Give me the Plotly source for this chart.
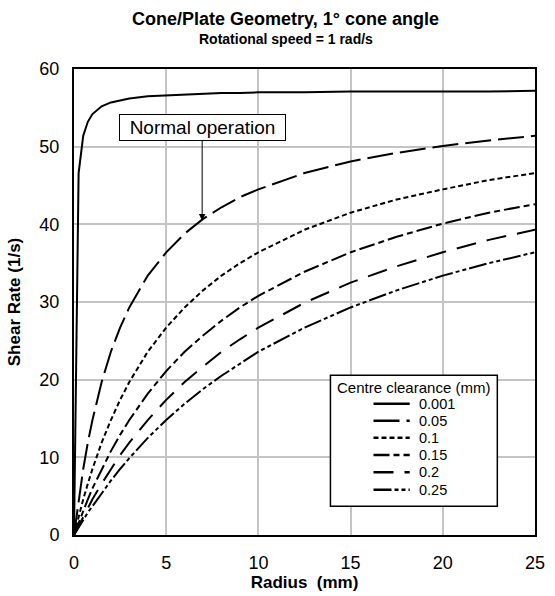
import plotly.graph_objects as go

radius = [0, 0.25, 0.5, 0.75, 1, 1.5, 2, 2.5, 3, 4, 5, 6, 7, 8, 9, 10, 12.5, 15, 17.5, 20, 22.5, 25]

clearances = ["0.001", "0.05", "0.1", "0.15", "0.2", "0.25"]

rate_0001 = [0, 46.6, 51.4, 53.2, 54.2, 55.2, 55.7, 56.0, 56.2, 56.5, 56.6, 56.7, 56.8, 56.9, 56.9, 57.0, 57.0, 57.1, 57.1, 57.1, 57.1, 57.2]
rate_005 = [0, 4.6, 8.5, 11.9, 14.8, 19.7, 23.6, 26.7, 29.3, 33.4, 36.4, 38.8, 40.7, 42.2, 43.5, 44.5, 46.6, 48.1, 49.2, 50.1, 50.8, 51.4]
rate_01 = [0, 2.4, 4.6, 6.6, 8.5, 11.9, 14.8, 17.4, 19.7, 23.6, 26.7, 29.3, 31.5, 33.4, 35.0, 36.4, 39.3, 41.5, 43.2, 44.5, 45.7, 46.6]
rate_015 = [0, 1.6, 3.2, 4.6, 6.0, 8.5, 10.8, 12.9, 14.8, 18.2, 21.1, 23.6, 25.7, 27.6, 29.3, 30.8, 33.9, 36.4, 38.4, 40.1, 41.5, 42.6]
rate_02 = [0, 1.2, 2.4, 3.5, 4.6, 6.6, 8.5, 10.3, 11.9, 14.8, 17.4, 19.7, 21.7, 23.6, 25.2, 26.7, 29.9, 32.5, 34.6, 36.4, 38.0, 39.3]
rate_025 = [0, 1.0, 1.9, 2.9, 3.7, 5.4, 7.0, 8.5, 9.9, 12.5, 14.8, 16.9, 18.8, 20.5, 22.1, 23.6, 26.7, 29.3, 31.5, 33.4, 35.0, 36.4]

x_ticks = [0, 5, 10, 15, 20, 25]
y_ticks = [0, 10, 20, 30, 40, 50, 60]

series = [rate_0001, rate_005, rate_01, rate_015, rate_02, rate_025]
dashes = ["solid", "26px,7px", "5px,3px", "16px,4px,6px,4px", "20px,11px", "18px,3px,4px,3px,4px,3px"]

FONT = "Arial, Liberation Sans, sans-serif"

# plot area in pixels
L, R, T, B = 74, 545, 69, 539
W, H = R - L, B - T


def px(xp):
    return (xp - L) / W


def py(yp):
    return (B - yp) / H


fig = go.Figure()
for name, vals, dash in zip(clearances, series, dashes):
    fig.add_trace(go.Scatter(
        x=radius, y=vals, mode="lines", name=name, showlegend=False,
        line=dict(color="black", width=2, dash=dash),
    ))

fig.update_layout(
    width=555, height=596,
    margin=dict(l=L, r=555 - R, t=T, b=596 - B),
    paper_bgcolor="white", plot_bgcolor="white",
    font=dict(family=FONT, color="black"),
    showlegend=False,
)

fig.update_xaxes(
    range=[0, 25], tickvals=x_ticks, showgrid=True, gridcolor="#c4c4c4", gridwidth=1.5,
    showline=True, linecolor="black", linewidth=2, mirror=True, zeroline=False,
    ticks="", ticklabelstandoff=10, tickfont=dict(size=18, family=FONT, color="black"),
    title=dict(text="<b>Radius&nbsp; (mm)</b>", font=dict(size=17, family=FONT, color="black"), standoff=2),
)
fig.update_yaxes(
    range=[0, 60], tickvals=y_ticks, showgrid=True, gridcolor="#c4c4c4", gridwidth=1.5,
    showline=True, linecolor="black", linewidth=2, mirror=True, zeroline=False,
    ticks="", ticklabelstandoff=9, tickfont=dict(size=18, family=FONT, color="black"),
    title=dict(text="<b>Shear Rate (1/s)</b>", font=dict(size=17, family=FONT, color="black"), standoff=14),
)

# titles
fig.add_annotation(
    xref="paper", yref="paper", x=px(290.5), y=py(18.5), yanchor="middle", xanchor="center",
    text="<b>Cone/Plate Geometry, 1° cone angle</b>", showarrow=False,
    font=dict(size=18, family=FONT, color="black"),
)
fig.add_annotation(
    xref="paper", yref="paper", x=px(291), y=py(39), yanchor="middle", xanchor="center",
    text="<b>Rotational speed = 1 rad/s</b>", showarrow=False,
    font=dict(size=14, family=FONT, color="black"),
)

# callout
fig.add_annotation(
    x=6.95, y=40.5, xref="x", yref="y",
    text="Normal operation", showarrow=True,
    ax=0, ay=-92.5, arrowhead=2, arrowsize=1.3, arrowwidth=1, arrowcolor="black",
    width=161, height=21, borderpad=2,
    bordercolor="black", borderwidth=1, bgcolor="white",
    font=dict(size=19, family=FONT, color="black"),
)

# legend drawn as a box with sample lines
leg_left, leg_right, leg_top, leg_bottom = 336, 506.5, 378, 510
fig.add_shape(type="rect", xref="paper", yref="paper",
              x0=px(leg_left), x1=px(leg_right), y0=py(leg_bottom), y1=py(leg_top),
              line=dict(color="black", width=1.5), fillcolor="white", layer="above")
fig.add_annotation(
    xref="paper", yref="paper", x=px((leg_left + leg_right) / 2), y=py(390.5),
    xanchor="center", yanchor="middle", text="Centre clearance (mm)", showarrow=False,
    font=dict(size=15, family=FONT, color="black"),
)
row_y = [406.7, 423.8, 441.0, 458.3, 475.8, 493.3]
for name, dash, yy in zip(clearances, dashes, row_y):
    fig.add_shape(type="line", xref="paper", yref="paper",
                  x0=px(380), x1=px(417), y0=py(yy), y1=py(yy),
                  line=dict(color="black", width=2.5, dash=dash), layer="above")
    fig.add_annotation(
        xref="paper", yref="paper", x=px(424), y=py(yy), xanchor="left", yanchor="middle",
        text=name, showarrow=False, font=dict(size=14.5, family=FONT, color="black"),
    )

fig.write_html("out.html")
